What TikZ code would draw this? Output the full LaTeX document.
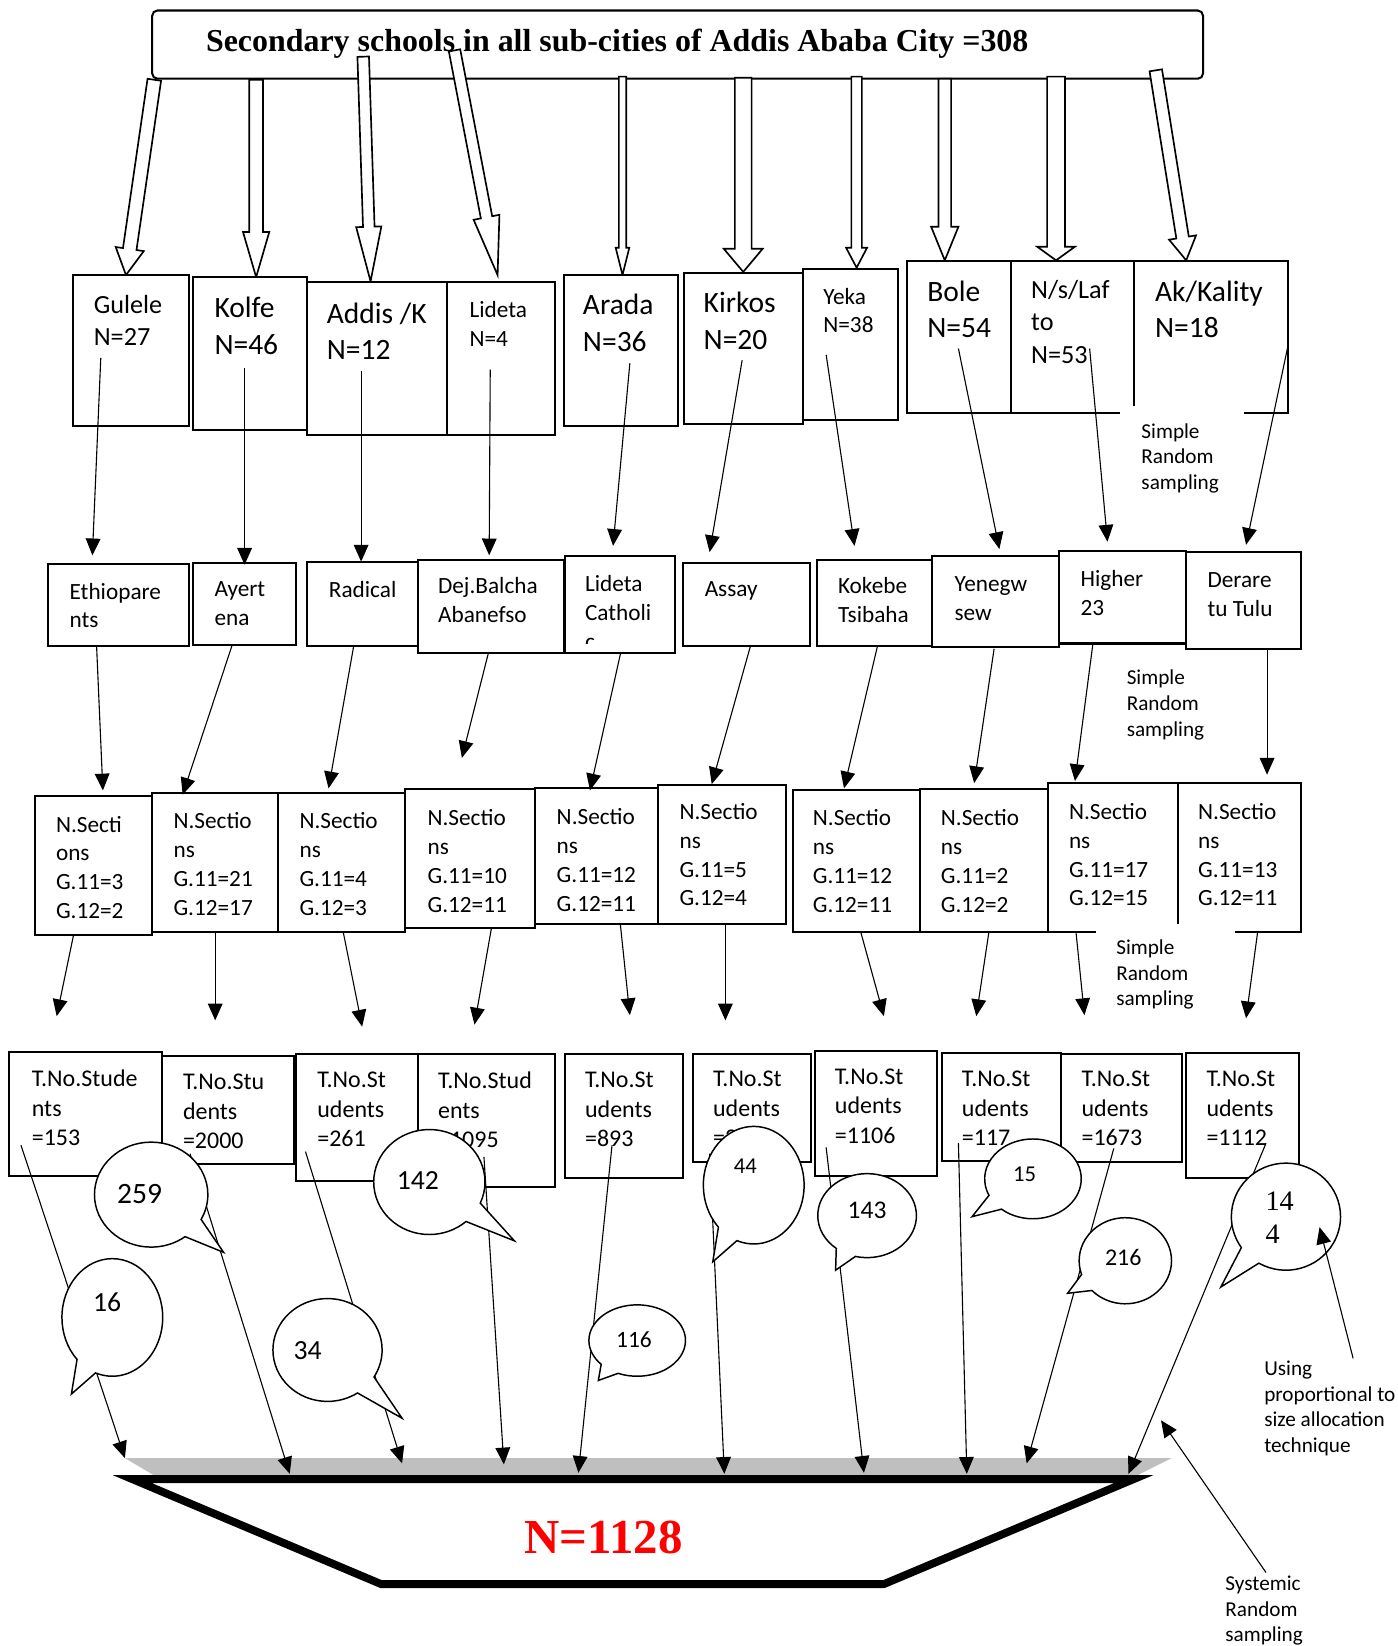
\documentclass[tikz,border=0pt]{standalone}
\usepackage{fontspec}
\setmainfont{Carlito}
\newfontfamily\tnr{Liberation Serif}
\usetikzlibrary{calc,arrows.meta,shapes.callouts}

\newcommand\fsz[2]{\fontsize{#1}{#2}\selectfont}
% box from its top-left to its bottom-right corner
\newcommand\bx[4][]{\path let \p1=(#3), \p2=(#4) in
  node[box, minimum width={\x2-\x1}, minimum height={\y1-(\y2)}, #1] (#2) at (\p1) {};}
% hollow block arrow: from, to, half shaft, half head, head length (mm)
\newcommand\blockarrow[5]{%
  \coordinate (ba-h) at ($(#2)!#5mm!(#1)$);
  \draw[blk] ($(#1)!#3mm!90:(#2)$) -- ($(ba-h)!#3mm!90:(#2)$) -- ($(ba-h)!#4mm!90:(#2)$) -- (#2)
    -- ($(ba-h)!#4mm!-90:(#2)$) -- ($(ba-h)!#3mm!-90:(#2)$) -- ($(#1)!#3mm!-90:(#2)$) -- cycle;}
% speech bubble: name, centre, rx, ry, pointer, text position, font, text
\newcommand\bubble[8]{%
  \node[bubble, minimum width=#3*0.4mm, minimum height=#4*0.4mm,
    callout absolute pointer={(#5)}] (#1) at (#2) {};
  \node[btxt, font=#7] (#1-t) at (#6) {#8};}

\begin{document}
\begin{tikzpicture}[x=0.2mm, y=-0.2mm,
  box/.style={draw, fill=white, line width=1.1pt, anchor=north west, inner sep=0, outer sep=0},
  txt/.style={anchor=north west, inner sep=0, align=left, font=\fsz{12.6}{15.6}},
  txtM/.style={txt, font=\fsz{14.2}{17.4}},
  txtL/.style={txt, font=\fsz{16}{19.8}},
  txtS/.style={txt, font=\fsz{13}{15.9}},
  notetxt/.style={txt, font=\fsz{11.5}{13.9}},
  blk/.style={draw, fill=white, line width=0.9pt},
  link/.style={line width=0.6pt, -{Triangle[length=3.2mm, width=2.8mm]}},
  bubble/.style={ellipse callout, draw, fill=white, line width=0.8pt, inner sep=0, callout pointer arc=25},
  btxt/.style={inner sep=0, align=left}]
  \useasboundingbox (0,0) rectangle (1331,1568);

  % City
  \bx[rounded corners=1mm]{ttl}{145,10}{1146,75}
  \node[font=\tnr\bfseries\fsz{17.3}{20}] (ttl-t) at (588,42) {Secondary schools in all sub-cities of Addis Ababa City =308};

  % Block arrows to the sub-cities
  \coordinate (ttl-1) at (147,76);   \coordinate (gul-in) at (120,262);
  \coordinate (ttl-2) at (244,76);   \coordinate (kol-in) at (244,264);
  \coordinate (ttl-3) at (346,54);   \coordinate (add-in) at (353,268);
  \coordinate (ttl-4) at (433,48);   \coordinate (lid-in) at (474,262);
  \coordinate (ttl-5) at (593,73);   \coordinate (ara-in) at (593,262);
  \coordinate (ttl-6) at (708,74);   \coordinate (kir-in) at (708,259);
  \coordinate (ttl-7) at (816,73);   \coordinate (yek-in) at (816,255);
  \coordinate (ttl-8) at (900,75);   \coordinate (bol-in) at (900,248);
  \coordinate (ttl-9) at (1006,73);  \coordinate (nsl-in) at (1006,248);
  \coordinate (ttl-10) at (1101,67); \coordinate (akk-in) at (1130,248);
  \blockarrow{ttl-1}{gul-in}{1.3}{2.7}{5}
  \blockarrow{ttl-2}{kol-in}{1.3}{2.5}{8.6}
  \blockarrow{ttl-3}{add-in}{1.1}{2.4}{10.4}
  \blockarrow{ttl-4}{lid-in}{1.1}{2.5}{11.2}
  \blockarrow{ttl-5}{ara-in}{0.7}{1.3}{5.2}
  \blockarrow{ttl-6}{kir-in}{1.6}{3.7}{4.4}
  \blockarrow{ttl-7}{yek-in}{1.0}{2.0}{3.8}
  \blockarrow{ttl-8}{bol-in}{1.2}{2.6}{6.4}
  \blockarrow{ttl-9}{nsl-in}{1.7}{3.6}{2.6}
  \blockarrow{ttl-10}{akk-in}{1.2}{2.6}{4.4}

  % Sub-cities
  \bx{gul}{70,262}{180,406}
  \bx{kol}{184,264}{292,410}
  \bx{add}{292,269}{426,414}
  \bx{lid}{426,269}{529,414}
  \bx{ara}{537,262}{646,406}
  \bx{kir}{652,260}{765,404}
  \bx{yek}{765,256}{855,400}
  \bx{bol}{864,249}{963,393}
  \bx{nsl}{963,249}{1080,393}
  \bx{akk}{1080,249}{1227,393}
  \node[txtM] (gul-t) at (89,281) {Gulele\\N=27};
  \node[txtL] (kol-t) at (204,283) {Kolfe\\N=46};
  \node[txtL] (add-t) at (311,288) {Addis /K\\N=12};
  \node[txt]  (lid-t) at (447,287) {Lideta\\N=4};
  \node[txtL] (ara-t) at (555,280) {Arada\\N=36};
  \node[txtL] (kir-t) at (670,278) {Kirkos\\N=20};
  \node[txt]  (yek-t) at (784,274) {Yeka\\N=38};
  \node[txtL] (bol-t) at (883,267) {Bole\\N=54};
  \node[txtM] (nsl-t) at (982,267) {N/s/Laf\\to\\N=53};
  \node[txtL] (akk-t) at (1100,267) {Ak/Kality\\N=18};

  % Schools
  \bx{eth}{46,537}{180,615}
  \bx{aye}{184,536}{282,614}
  \bx{rad}{292,535}{398,615}
  \bx{dej}{398,533}{537,622}
  \bx{lct}{538,530}{643,622}
  \bx{ass}{651,536}{772,615}
  \bx{kok}{778,533}{888,615}
  \bx{yen}{888,530}{1009,616}
  \bx{hig}{1009,525}{1130,613}
  \bx{der}{1130,526}{1239,618}
  \node[txt] (eth-t) at (66,555) {Ethiopare\\nts};
  \node[txt] (aye-t) at (204,554) {Ayert\\ena};
  \node[txt] (rad-t) at (313,553) {Radical};
  \node[txt] (dej-t) at (417,550) {Dej.Balcha\\Abanefso};
  \begin{scope}
    \clip (538,530) rectangle (643,613);
    \node[txt] (lct-t) at (557,548) {Lideta\\Catholi\\c};
  \end{scope}
  \node[txt] (ass-t) at (671,554) {Assay};
  \node[txt] (kok-t) at (798,550) {Kokebe\\Tsibaha};
  \node[txt] (yen-t) at (909,549) {Yenegw\\sew};
  \node[txt] (hig-t) at (1029,543) {Higher\\23};
  \node[txt] (der-t) at (1150,545) {Derare\\tu Tulu};

  % Sections
  \bx{sec1}{33,758}{145,891}
  \bx{sec2}{145,755}{265,888}
  \bx{sec3}{265,755}{386,888}
  \bx{sec4}{386,752}{510,884}
  \bx{sec5}{510,751}{627,880}
  \bx{sec6}{627,748}{749,880}
  \bx{sec7}{755,753}{876,888}
  \bx{sec8}{876,752}{998,888}
  \bx{sec9}{998,746}{1122,888}
  \bx{sec10}{1122,746}{1239,888}
  \node[txt] (sec1-t) at (53,777) {N.Secti\\ons\\G.11=3\\G.12=2};
  \node[txt] (sec2-t) at (165,774) {N.Sectio\\ns\\G.11=21\\G.12=17};
  \node[txt] (sec3-t) at (285,774) {N.Sectio\\ns\\G.11=4\\G.12=3};
  \node[txt] (sec4-t) at (407,771) {N.Sectio\\ns\\G.11=10\\G.12=11};
  \node[txt] (sec5-t) at (530,770) {N.Sectio\\ns\\G.11=12\\G.12=11};
  \node[txt] (sec6-t) at (647,765) {N.Sectio\\ns\\G.11=5\\G.12=4};
  \node[txt] (sec7-t) at (774,771) {N.Sectio\\ns\\G.11=12\\G.12=11};
  \node[txt] (sec8-t) at (896,771) {N.Sectio\\ns\\G.11=2\\G.12=2};
  \node[txt] (sec9-t) at (1018,765) {N.Sectio\\ns\\G.11=17\\G.12=15};
  \node[txt] (sec10-t) at (1141,765) {N.Sectio\\ns\\G.11=13\\G.12=11};

  % Students
  \bx{tot1}{9,1002}{154,1120}
  \bx{tot2}{154,1006}{280,1109}
  \bx{tot3}{282,1004}{398,1125}
  \bx{tot4}{398,1004}{529,1131}
  \bx{tot5}{538,1004}{651,1122}
  \bx{tot6}{660,1004}{773,1107}
  \bx{tot7}{776,1001}{893,1120}
  \bx{tot8}{897,1003}{1011,1106}
  \bx{tot9}{1011,1004}{1126,1107}
  \bx{tot10}{1130,1003}{1237,1122}
  \node[txtS] (tot1-t) at (30,1019) {T.No.Stude\\nts\\=153};
  \node[txtS] (tot2-t) at (174,1023) {T.No.Stu\\dents\\=2000};
  \node[txtS] (tot3-t) at (302,1021) {T.No.St\\udents\\=261};
  \node[txtS] (tot4-t) at (417,1021) {T.No.Stud\\ents\\=1095};
  \node[txtS] (tot5-t) at (557,1021) {T.No.St\\udents\\=893};
  \node[txtS] (tot6-t) at (679,1020) {T.No.St\\udents\\=2};
  \node[txtS] (tot7-t) at (795,1018) {T.No.St\\udents\\=1106};
  \node[txtS] (tot8-t) at (916,1020) {T.No.St\\udents\\=117};
  \node[txtS] (tot9-t) at (1030,1020) {T.No.St\\udents\\=1673};
  \node[txtS] (tot10-t) at (1149,1020) {T.No.St\\udents\\=1112};

  % Sub-cities to schools
  \coordinate (gul-o) at (96,341);   \coordinate (eth-in) at (88,529);
  \coordinate (kol-o) at (233,351);  \coordinate (aye-in) at (233,538);
  \coordinate (add-o) at (344,353);  \coordinate (rad-in) at (344,535);
  \coordinate (lid-o) at (467,352);  \coordinate (dej-in) at (466,529);
  \coordinate (ara-o) at (600,346);  \coordinate (lct-in) at (584,520);
  \coordinate (kir-o) at (707,343);  \coordinate (ass-in) at (676,526);
  \coordinate (yek-o) at (787,338);  \coordinate (kok-in) at (814,520);
  \coordinate (bol-o) at (913,332);  \coordinate (yen-in) at (952,523);
  \coordinate (nsl-o) at (1038,332); \coordinate (hig-in) at (1055,516);
  \coordinate (akk-o) at (1227,329); \coordinate (der-in) at (1187,519);
  \draw[link] (gul-o) -- (eth-in);
  \draw[link] (kol-o) -- (aye-in);
  \draw[link] (add-o) -- (rad-in);
  \draw[link] (lid-o) -- (dej-in);
  \draw[link] (ara-o) -- (lct-in);
  \draw[link] (kir-o) -- (ass-in);
  \draw[link] (yek-o) -- (kok-in);
  \draw[link] (bol-o) -- (yen-in);
  \draw[link] (nsl-o) -- (hig-in);
  \draw[link] (akk-o) -- (der-in);

  % Schools to sections
  \coordinate (eth-o) at (92,615);   \coordinate (sec1-in) at (98,753);
  \coordinate (aye-o) at (221,615);  \coordinate (sec2-in) at (174,757);
  \coordinate (rad-o) at (337,615);  \coordinate (sec3-in) at (313,751);
  \coordinate (dej-o) at (465,623);  \coordinate (dej-x) at (440,722);
  \coordinate (lct-o) at (591,623);  \coordinate (sec5-in) at (562,753);
  \coordinate (ass-o) at (715,615);  \coordinate (sec6-in) at (678,747);
  \coordinate (kok-o) at (836,615);  \coordinate (sec7-in) at (804,751);
  \coordinate (yen-o) at (947,618);  \coordinate (sec8-in) at (928,746);
  \coordinate (hig-o) at (1041,614); \coordinate (sec9-in) at (1024,744);
  \coordinate (der-o) at (1207,618); \coordinate (sec10-in) at (1207,738);
  \draw[link] (eth-o) -- (sec1-in);
  \draw[link] (aye-o) -- (sec2-in);
  \draw[link] (rad-o) -- (sec3-in);
  \draw[link] (dej-o) -- (dej-x);
  \draw[link] (lct-o) -- (sec5-in);
  \draw[link] (ass-o) -- (sec6-in);
  \draw[link] (kok-o) -- (sec7-in);
  \draw[link] (yen-o) -- (sec8-in);
  \draw[link] (hig-o) -- (sec9-in);
  \draw[link] (der-o) -- (sec10-in);

  % Sections to students
  \coordinate (sec1-o) at (70,891);    \coordinate (tot1-in) at (54,968);
  \coordinate (sec2-o) at (205,888);   \coordinate (tot2-in) at (205,972);
  \coordinate (sec3-o) at (327,888);   \coordinate (tot3-in) at (345,978);
  \coordinate (sec4-o) at (468,885);   \coordinate (tot4-in) at (452,976);
  \coordinate (sec5-o) at (591,881);   \coordinate (tot5-in) at (600,967);
  \coordinate (sec6-o) at (691,880);   \coordinate (tot6-in) at (691,972);
  \coordinate (sec7-o) at (820,888);   \coordinate (tot7-in) at (842,968);
  \coordinate (sec8-o) at (942,888);   \coordinate (tot8-in) at (930,968);
  \coordinate (sec9-o) at (1025,888);  \coordinate (tot9-in) at (1033,967);
  \coordinate (sec10-o) at (1198,888); \coordinate (tot10-in) at (1187,970);
  \draw[link] (sec1-o) -- (tot1-in);
  \draw[link] (sec2-o) -- (tot2-in);
  \draw[link] (sec3-o) -- (tot3-in);
  \draw[link] (sec4-o) -- (tot4-in);
  \draw[link] (sec5-o) -- (tot5-in);
  \draw[link] (sec6-o) -- (tot6-in);
  \draw[link] (sec7-o) -- (tot7-in);
  \draw[link] (sec8-o) -- (tot8-in);
  \draw[link] (sec9-o) -- (tot9-in);
  \draw[link] (sec10-o) -- (tot10-in);

  % Sample
  \fill[gray!50] (119,1389) -- (1116,1389) -- (1084,1405) -- (146,1405) -- cycle;
  \draw[line width=1.5mm, fill=white] (126,1409) -- (1080,1409) -- (842,1509) -- (363,1509) -- cycle;
  \node[font=\tnr\bfseries\fsz{26.5}{30}, text=red] (smp) at (575,1465) {N=1128};

  % Students to sample
  \coordinate (tot1-o) at (20,1091);   \coordinate (smp1) at (119,1389);
  \coordinate (tot2-o) at (181,1099);  \coordinate (smp2) at (276,1404);
  \coordinate (tot3-o) at (291,1097);  \coordinate (smp3) at (383,1394);
  \coordinate (tot4-o) at (461,1102);  \coordinate (smp4) at (480,1395);
  \coordinate (tot5-o) at (583,1091);  \coordinate (smp5) at (551,1403);
  \coordinate (tot6-o) at (676,1099);  \coordinate (smp6) at (690,1404);
  \coordinate (tot7-o) at (787,1093);  \coordinate (smp7) at (823,1403);
  \coordinate (tot8-o) at (913,1089);  \coordinate (smp8) at (921,1404);
  \coordinate (tot9-o) at (1061,1094); \coordinate (smp9) at (978,1394);
  \coordinate (tot10-o) at (1206,1089); \coordinate (smp10) at (1075,1404);
  \draw[link] (tot1-o) -- (smp1);
  \draw[link] (tot2-o) -- (smp2);
  \draw[link] (tot3-o) -- (smp3);
  \draw[link] (tot4-o) -- (smp4);
  \draw[link] (tot5-o) -- (smp5);
  \draw[link] (tot6-o) -- (smp6);
  \draw[link] (tot7-o) -- (smp7);
  \draw[link] (tot8-o) -- (smp8);
  \draw[link] (tot9-o) -- (smp9);
  \draw[link] (tot10-o) -- (smp10);

  % Sample sizes
  \bubble{b259}{144,1138}{54}{50}{213,1193}{133,1137}{\fsz{16}{19}}{259}
  \bubble{b16}{107,1255}{48}{56}{68,1328}{102,1241}{\fsz{15}{18}}{16}
  \bubble{b142}{409,1126}{53}{50}{490,1182}{398,1125}{\fsz{15}{18}}{142}
  \bubble{b34}{312,1286}{52}{49}{383,1351}{293,1287}{\fsz{15}{18}}{34}
  \bubble{b116}{607,1277}{46}{34}{570,1315}{604,1276}{\fsz{12.7}{15}}{116}
  \bubble{b44}{718,1129}{48}{56}{679,1202}{710,1111}{\fsz{12.3}{15}}{44}
  \bubble{b143}{826,1158}{47}{40}{796,1210}{826,1153}{\fsz{13.8}{16}}{143}
  \bubble{b15}{984,1123}{46}{38}{926,1159}{976,1119}{\fsz{12.3}{15}}{15}
  \bubble{b216}{1072,1201}{44}{41}{1017,1232}{1070,1198}{\fsz{13}{16}}{216}
  \bubble{b144}{1225,1159}{52}{51}{1163,1226}{1219,1160}{\tnr\fsz{15.3}{18.3}}{14\\4}

  % Notes
  \fill[white] (1067,387) rectangle (1185,478);
  \fill[white] (1044,880) rectangle (1176,965);
  \node[notetxt] (nt1) at (1087,403) {Simple\\Random\\sampling};
  \node[notetxt] (nt2) at (1073,638) {Simple\\Random\\sampling};
  \node[notetxt] (nt3) at (1063,895) {Simple\\Random\\sampling};
  \node[notetxt] (nt4) at (1204,1296) {Using\\proportional to\\size allocation\\technique};
  \node[notetxt] (nt5) at (1167,1501) {Systemic\\Random\\sampling};
  \coordinate (nt4-a) at (1289,1294);  \coordinate (b144-p) at (1257,1169);
  \coordinate (nt5-a) at (1206,1498);  \coordinate (smp-r) at (1106,1353);
  \draw[link] (nt4-a) -- (b144-p);
  \draw[link] (nt5-a) -- (smp-r);
\end{tikzpicture}
\end{document}
